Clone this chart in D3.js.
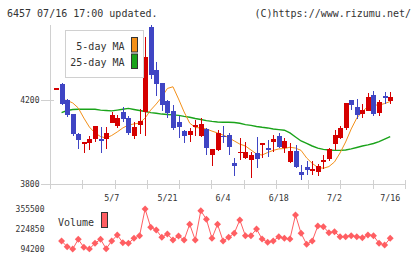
<!DOCTYPE html>
<html>
<head>
<meta charset="utf-8">
<script src="https://cdn.jsdelivr.net/npm/d3@7"></script>
<style>
  body { margin: 0; background: #fff; }
  text { font-family: "DejaVu Sans Mono", monospace; fill: #333; }
</style>
</head>
<body>
<div id="chart"></div>
<script>
// *********************
// Data
// *********************

const opens  = [4253,4278,4200,4132,4038,3998,3997,4013,4012,4015,4092,4076,4142,4112,4030,4081,4144,4546,4343,4280,
                4195,4148,4097,4052,4033,4073,4029,4060,3938,3962,4030,4035,3900,3950,3925,3912,3948,3984,3971,4001,
                4030,3970,3906,3957,3857,3883,3864,3859,3903,3920,3990,4019,4065,4199,4165,4134,4149,4225,4136,4219,4197];
const highs  = [4255,4280,4203,4134,4044,4001,4028,4078,4070,4070,4143,4128,4165,4125,4097,4156,4500,4556,4381,4282,
                4200,4175,4125,4055,4065,4106,4113,4067,3966,4057,4076,4044,3922,4018,4000,3954,4022,3997,4010,4032,
                4041,4020,3994,3984,3890,3908,3908,3897,3940,3970,4058,4076,4186,4200,4203,4180,4235,4245,4200,4237,4236];
const lows   = [4253,4178,4121,4030,3965,3946,3960,4001,3950,3965,4089,4065,4097,4032,4015,4037,4030,4300,4219,4150,
                4115,4055,4020,3997,4000,4030,4025,3940,3888,3959,3996,3937,3840,3913,3920,3830,3878,3925,3927,3953,
                3970,3950,3898,3875,3817,3842,3842,3838,3873,3910,3963,4013,4055,4152,4110,4113,4146,4124,4124,4182,4182];
const closes = [4255,4182,4130,4037,4008,4000,4016,4076,4003,4043,4130,4115,4108,4044,4072,4098,4403,4320,4278,4178,
                4138,4068,4073,4029,4052,4082,4087,3972,3965,4041,4027,3978,3887,3953,3952,3938,3920,3995,3969,4015,
                3976,4006,3957,3880,3845,3868,3872,3886,3912,3967,4035,4067,4185,4175,4130,4152,4214,4135,4190,4211,4212];

const ma5  = [null,4200,4198,4186,4162,4114,4071,4043,4026,4019,4031,4048,4067,4081,4086,4090,4114,4152,4181,4214,
              4255,4263,4205,4143,4090,4069,4067,4062,4052,4043,4033,4021,4005,3990,3981,3962,3943,3938,3950,3960,
              3967,3969,3975,3971,3960,3924,3898,3879,3875,3883,3905,3948,4000,4062,4114,4145,4169,4176,4176,4183,4193];
const ma25 = [null,4140,4150,4155,4156,4156,4156,4156,4152,4150,4148,4152,4156,4160,4155,4150,4145,4140,4137,4133,
              4131,4129,4127,4122,4118,4112,4107,4102,4098,4095,4094,4094,4093,4089,4083,4079,4074,4070,4067,4062,
              4059,4056,4043,4024,4005,3993,3981,3971,3965,3962,3960,3960,3962,3967,3974,3981,3986,3993,4002,4014,4026];

const volumes = [null,146460,109225,94200,157565,105305,95000,131435,157565,96000,146460,185655,135355,131435,164100,181080,355500,235955,218318,170630,
                 192188,152993,179123,152993,255553,152993,344395,288215,164100,255553,146460,170630,196760,283643,181080,181080,224850,159525,137968,146460,
                 174550,164100,159525,316305,196760,124903,146460,244448,239875,200680,207212,174550,174550,181080,174550,168017,185655,181080,131435,120330,164100];

const priceTicks = [3800, 4200];
const volTicks = [94200, 224850, 355500];
const dateIdx = [10, 20, 30, 40, 50, 60];
const dateText = ["5/7", "5/21", "6/4", "6/18", "7/2", "7/16"];

// *********************
// SVG setup
// *********************

const width = 420, height = 259;
const plot = {left: 50, right: 405, top: 25, bottom: 184};

const svg = d3.select("#chart").append("svg")
  .attr("width", width)
  .attr("height", height);

svg.append("rect").attr("width", width).attr("height", height).attr("fill", "#fff");

const axisColor = "#d0d0d0";
const upColor = "#d50000", downColor = "#3f45c4";
const ma5Color = "#f39019", ma25Color = "#1aa31a", volColor = "#ff5e62";

// Scales
const x = d3.scaleLinear().domain([0, closes.length - 1]).range([56, 390.2]);
const y = d3.scaleLinear().domain([3800, 4200]).range([plot.bottom, 100]);
const yv = d3.scaleLinear()
  .domain([d3.min(volumes.filter(v => v != null)), d3.max(volumes)])
  .range([249, 209]);
const grid = d3.scaleLinear().domain([0, 11]).range([plot.left, plot.right]);

// Header texts
svg.append("text").attr("x", 7).attr("y", 17).attr("font-size", "10px")
  .text("6457 07/16 17:00 updated.");
svg.append("text").attr("x", 411).attr("y", 17).attr("font-size", "10px")
  .attr("text-anchor", "end").text("(C)https://www.rizumu.net/");

// *********************
// Axes
// *********************

const axes = svg.append("g").attr("stroke", axisColor).attr("shape-rendering", "crispEdges");
axes.append("line").attr("x1", plot.left + 0.5).attr("x2", plot.left + 0.5)
  .attr("y1", plot.top).attr("y2", plot.bottom + 5);
axes.append("line").attr("x1", 41).attr("x2", plot.right)
  .attr("y1", plot.bottom + 0.5).attr("y2", plot.bottom + 0.5);
priceTicks.forEach(p => {
  axes.append("line").attr("x1", 41).attr("x2", 54)
    .attr("y1", Math.round(y(p)) + 0.5).attr("y2", Math.round(y(p)) + 0.5);
});
d3.range(12).forEach(k => {
  axes.append("line").attr("x1", Math.round(grid(k)) + 0.5).attr("x2", Math.round(grid(k)) + 0.5)
    .attr("y1", plot.bottom - 4).attr("y2", plot.bottom + 5);
});

svg.selectAll(".ptick").data(priceTicks).enter().append("text")
  .attr("x", 39.5).attr("y", d => y(d) + 3)
  .attr("text-anchor", "end").attr("font-size", "8px")
  .text(d => d);

svg.selectAll(".dlabel").data(dateIdx).enter().append("text")
  .attr("x", d => x(d)).attr("y", 201)
  .attr("text-anchor", "middle").attr("font-size", "8.3px")
  .text((d, i) => dateText[i]);

svg.selectAll(".vtick").data(volTicks).enter().append("text")
  .attr("x", 44.5).attr("y", d => yv(d) + 3)
  .attr("text-anchor", "end").attr("font-size", "8px")
  .text(d => d);

// *********************
// Moving averages
// *********************

const lineFor = arr => d3.line()
  .defined(d => d != null)
  .x((d, i) => x(i))
  .y(d => y(d))(arr);

svg.append("path").attr("d", lineFor(ma25)).attr("fill", "none")
  .attr("stroke", ma25Color).attr("stroke-width", 1.4);
svg.append("path").attr("d", lineFor(ma5)).attr("fill", "none")
  .attr("stroke", ma5Color).attr("stroke-width", 1);

// *********************
// Candles
// *********************

const candles = svg.append("g").attr("shape-rendering", "crispEdges");
closes.forEach((c, i) => {
  const o = opens[i];
  const col = c >= o ? upColor : downColor;
  const cx = Math.round(x(i));
  candles.append("line")
    .attr("x1", cx + 0.5).attr("x2", cx + 0.5)
    .attr("y1", y(highs[i])).attr("y2", y(lows[i]))
    .attr("stroke", col);
  const top = y(Math.max(o, c)), bot = y(Math.min(o, c));
  candles.append("rect")
    .attr("x", cx - 2).attr("width", 5)
    .attr("y", top).attr("height", Math.max(1.5, bot - top))
    .attr("fill", col);
});

// *********************
// Volume
// *********************

const volLine = d3.line()
  .defined(d => d != null)
  .x((d, i) => x(i))
  .y(d => yv(d));

svg.append("path").attr("d", volLine(volumes)).attr("fill", "none")
  .attr("stroke", volColor).attr("stroke-width", 1);

svg.selectAll(".vdot").data(volumes.map((v, i) => ({v, i})).filter(d => d.v != null))
  .enter().append("path")
  .attr("d", d3.symbol(d3.symbolSquare, 24))
  .attr("transform", d => `translate(${x(d.i)},${yv(d.v)}) rotate(45)`)
  .attr("fill", volColor);

// *********************
// Legends
// *********************

svg.append("rect").attr("x", 65.5).attr("y", 30.5).attr("width", 78).attr("height", 47)
  .attr("fill", "#fff").attr("stroke", "#d0d0d0");
const legendItems = [["5-day MA", ma5Color, 49.5], ["25-day MA", ma25Color, 66]];
legendItems.forEach(([label, col, by]) => {
  svg.append("text").attr("x", 124.5).attr("y", by).attr("text-anchor", "end")
    .attr("font-size", "10px").text(label);
  svg.append("rect").attr("x", 131.5).attr("y", by - 12).attr("width", 6).attr("height", 14.5)
    .attr("fill", col).attr("stroke", "#333");
});

svg.append("text").attr("x", 58).attr("y", 226).attr("font-size", "10px").text("Volume");
svg.append("rect").attr("x", 101.5).attr("y", 212.5).attr("width", 6).attr("height", 15)
  .attr("fill", volColor).attr("stroke", "#333");
</script>
</body>
</html>
